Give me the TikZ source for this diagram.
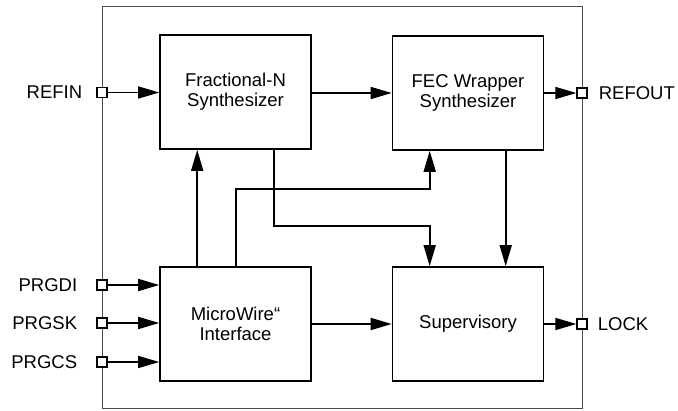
\documentclass[tikz,border=0pt]{standalone}
\usepackage{fontspec}
\setmainfont{Liberation Sans}
\usetikzlibrary{arrows.meta,positioning}

\tikzset{
  blk/.style={draw,line width=1.6pt,minimum width=151pt,minimum height=114pt,
              align=center,inner sep=0pt,font=\fontsize{18.5}{20}\selectfont},
  pinbox/.style={draw,line width=1.3pt,fill=white,minimum size=10pt,inner sep=0pt},
  pinlbl/.style={inner sep=0pt,font=\fontsize{18.5}{20}\selectfont},
  arr/.style={line width=1.6pt,-{Triangle[length=21pt,width=12pt]}}
}

\begin{document}
\begin{tikzpicture}[x=1pt,y=-1pt]
    \useasboundingbox (0,0) rectangle (678,411);

    %% chip outline
    \draw[line width=1pt,black!70] (102,7) rectangle (582,409);

    %% the four blocks
    \node[blk] (fracn)  at (235.5,92)  {Fractional-N\\Synthesizer};
    \node[blk] (fec)    at (468,93)    {FEC Wrapper\\Synthesizer};
    \node[blk] (mwire)  at (235.5,324) {MicroWire“\\ Interface};
    \node[blk] (superv) at (468,324)   {Supervisory};

    %% pins on the outline
    \node[pinbox] (refinpin)  at (102,92.5) {};
    \node[pinbox] (prgdipin)  at (102,285)  {};
    \node[pinbox] (prgskpin)  at (102,323)  {};
    \node[pinbox] (prgcspin)  at (102,362)  {};
    \node[pinbox] (refoutpin) at (582,93)   {};
    \node[pinbox] (lockpin)   at (582,324)  {};

    \node[pinlbl,left=14pt of refinpin]  (refinlbl)  {REFIN};
    \node[pinlbl,left=19pt of prgdipin]  (prgdilbl)  {PRGDI};
    \node[pinlbl,left=19pt of prgskpin]  (prgsklbl)  {PRGSK};
    \node[pinlbl,left=19pt of prgcspin]  (prgcslbl)  {PRGCS};
    \node[pinlbl,right=11pt of refoutpin] (refoutlbl) {REFOUT};
    \node[pinlbl,right=10pt of lockpin]   (locklbl)   {LOCK};

    %% inputs and outputs
    \draw[arr] (refinpin.east) -- (refinpin.east -| fracn.west);
    \draw[arr] (prgdipin.east) -- (prgdipin.east -| mwire.west);
    \draw[arr] (prgskpin.east) -- (prgskpin.east -| mwire.west);
    \draw[arr] (prgcspin.east) -- (prgcspin.east -| mwire.west);
    \draw[arr] (fec.east |- refoutpin.west) -- (refoutpin.west);
    \draw[arr] (superv.east |- lockpin.west) -- (lockpin.west);

    %% internal paths
    \draw[arr] (fracn.east |- 0,93) -- (fec.west |- 0,93);
    \draw[arr] (mwire.east) -- (superv.west);
    \draw[arr] ([xshift=38pt]mwire.north west) -- ([xshift=38pt]fracn.south west);
    \draw[arr] ([xshift=77pt]mwire.north west) |- ([xshift=38pt,yshift=-38pt]fec.south west)
               -- ([xshift=38pt]fec.south west);
    \draw[arr] ([xshift=115pt]fracn.south west) |- ([xshift=38pt,yshift=40pt]superv.north west)
               -- ([xshift=38pt]superv.north west);
    \draw[arr] ([xshift=114pt]fec.south west) -- ([xshift=114pt]superv.north west);

    %% pins again on top of the lines
    \foreach \p in {refinpin,prgdipin,prgskpin,prgcspin,refoutpin,lockpin}{
      \draw[line width=1.3pt,fill=white] ([xshift=-5pt,yshift=-5pt]\p.center) rectangle ([xshift=5pt,yshift=5pt]\p.center);
    }
\end{tikzpicture}
\end{document}
